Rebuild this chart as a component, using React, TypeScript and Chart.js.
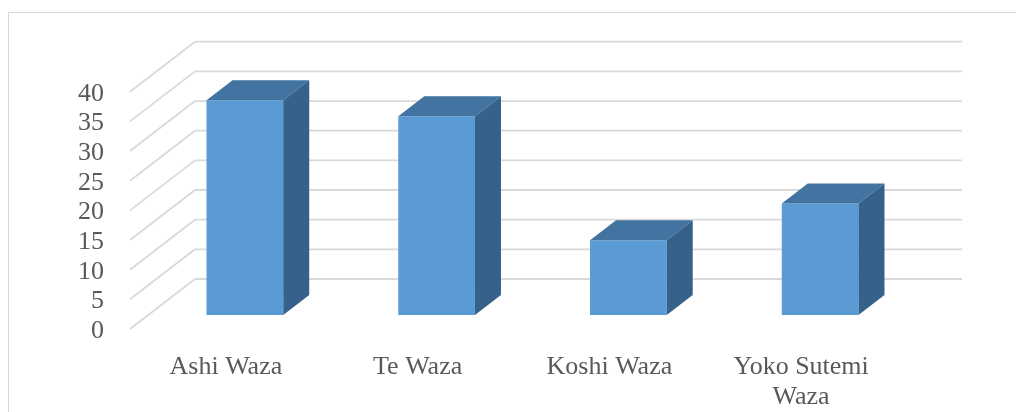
import React, { useEffect, useRef } from "react";
import { Chart, registerables } from "chart.js";

Chart.register(...registerables);

// ---- data ----
const categories: (string | string[])[] = ["Ashi Waza", "Te Waza", "Koshi Waza", ["Yoko Sutemi", "Waza"]];
const values: number[] = [36.2, 33.5, 12.6, 18.8];
const yMin = 0;
const yMax = 40;
const yStep = 5;

// ---- styling ----
const FONT = "'Liberation Serif', 'Times New Roman', serif";
const TEXT_COLOR = "#595959";
const GRID_COLOR = "#d9d9d9";
const FRONT_COLOR = "#5b9bd5";
const TOP_COLOR = "#4373a1";
const SIDE_COLOR = "#36618a";

// oblique 3D offsets relative to the bar front plane (pixels)
const FLOOR_FRONT = { dx: -19, dy: 14 };
const BACK_WALL = { dx: 46, dy: -36 };
const BAR_DEPTH = { dx: 26, dy: -20 };

const threeD = {
  id: "threeD",
  beforeDraw(chart: any) {
    const ctx = chart.ctx;
    ctx.save();
    ctx.strokeStyle = GRID_COLOR;
    ctx.lineWidth = 1;
    ctx.strokeRect(8.5, 12.5, 3000, 3000);
    ctx.restore();
  },
  beforeDatasetsDraw(chart: any) {
    const { ctx, chartArea } = chart;
    const y = chart.scales.y;
    ctx.save();
    ctx.strokeStyle = GRID_COLOR;
    ctx.lineWidth = 1.8;
    ctx.lineJoin = "round";
    y.ticks.forEach((t: any) => {
      const py = y.getPixelForValue(t.value);
      ctx.beginPath();
      ctx.moveTo(chartArea.left + FLOOR_FRONT.dx, py + FLOOR_FRONT.dy);
      ctx.lineTo(chartArea.left + BACK_WALL.dx, py + BACK_WALL.dy);
      ctx.lineTo(chartArea.right + BACK_WALL.dx, py + BACK_WALL.dy);
      ctx.stroke();
    });
    ctx.restore();
  },
  afterDatasetsDraw(chart: any) {
    const ctx = chart.ctx;
    const meta = chart.getDatasetMeta(0);
    ctx.save();
    meta.data.forEach((bar: any) => {
      const { x, y, base, width } = bar.getProps(["x", "y", "base", "width"], true);
      const l = x - width / 2;
      const r = x + width / 2;
      const { dx, dy } = BAR_DEPTH;
      ctx.fillStyle = TOP_COLOR;
      ctx.beginPath();
      ctx.moveTo(l, y);
      ctx.lineTo(l + dx, y + dy);
      ctx.lineTo(r + dx, y + dy);
      ctx.lineTo(r, y);
      ctx.closePath();
      ctx.fill();
      ctx.fillStyle = SIDE_COLOR;
      ctx.beginPath();
      ctx.moveTo(r, y);
      ctx.lineTo(r + dx, y + dy);
      ctx.lineTo(r + dx, base + dy);
      ctx.lineTo(r, base);
      ctx.closePath();
      ctx.fill();
    });
    ctx.restore();
  },
};

export default function App() {
  const ref = useRef<HTMLCanvasElement>(null);
  useEffect(() => {
    if (!ref.current) return;
    const chart = new Chart(ref.current, {
      type: "bar",
      data: {
        labels: categories,
        datasets: [
          {
            data: values,
            backgroundColor: FRONT_COLOR,
            borderWidth: 0,
            categoryPercentage: 1,
            barPercentage: 0.4,
          },
        ],
      },
      options: {
        animation: false,
        responsive: false,
        devicePixelRatio: 1,
        layout: { padding: { left: 0, right: 100, top: 77.7, bottom: 0 } },
        plugins: { legend: { display: false }, tooltip: { enabled: false } },
        scales: {
          x: {
            grid: { display: false, drawTicks: false },
            border: { display: false },
            ticks: {
              color: TEXT_COLOR,
              font: { family: FONT, size: 26, lineHeight: 1.15 },
              padding: 37,
              labelOffset: -19,
              maxRotation: 0,
              minRotation: 0,
              autoSkip: false,
            },
            afterFit: (s: any) => {
              s.height = 97;
            },
          },
          y: {
            min: yMin,
            max: yMax,
            grid: { display: false, drawTicks: false },
            border: { display: false },
            ticks: {
              stepSize: yStep,
              autoSkip: false,
              color: TEXT_COLOR,
              font: { family: FONT, size: 26 },
              padding: 45,
              labelOffset: 16,
            },
            afterFit: (s: any) => {
              s.width = 149;
            },
          },
        },
      },
      plugins: [threeD],
    });
    return () => chart.destroy();
  }, []);
  return (
    <div style={{ position: "fixed", left: 0, top: 0, width: 1016, height: 412, background: "#fff" }}>
      <canvas ref={ref} width={1016} height={412} style={{ display: "block" }} />
    </div>
  );
}
